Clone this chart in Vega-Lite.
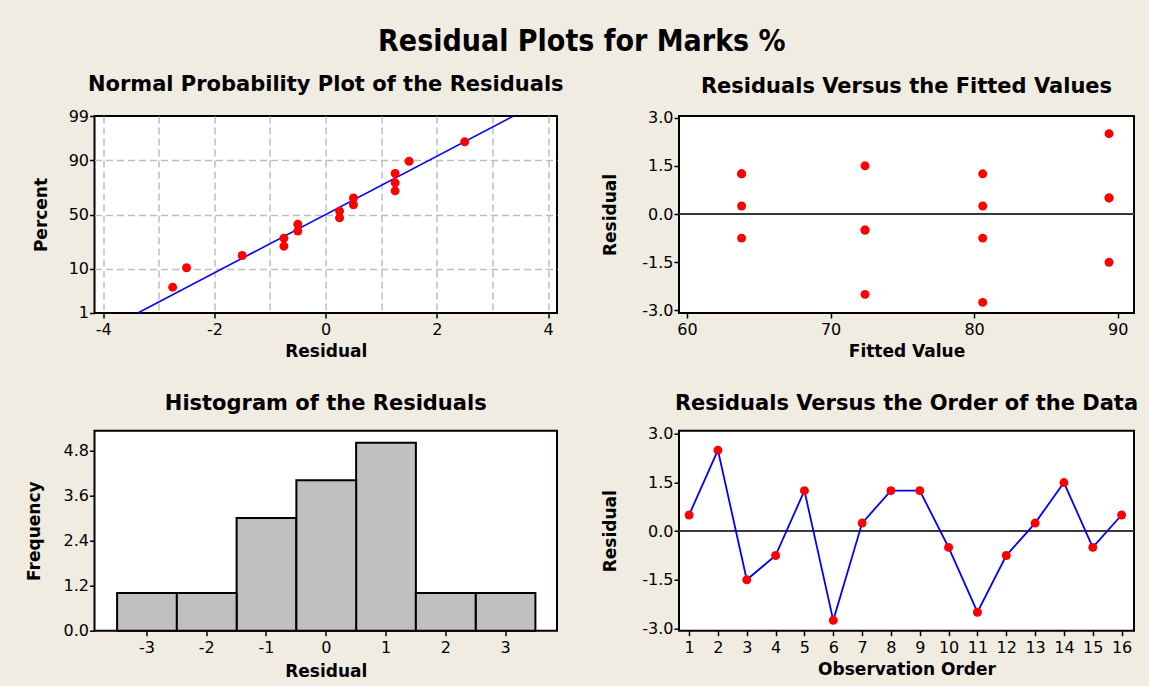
{
  "$schema": "https://vega.github.io/schema/vega-lite/v6.json",
  "background": "#F0ECE2",
  "padding": {"left": 24.5, "top": 27, "right": 14, "bottom": 14},
  "title": {"text": "Residual Plots for Marks %", "font": "DejaVu Sans Condensed", "fontWeight": "bold", "fontSize": 30, "anchor": "middle", "frame": "bounds", "color": "black", "offset": 16},
  "datasets": {
    "obs": [
      {"order": 1, "residual": 0.5, "fitted": 89.4, "score": 0.23},
      {"order": 2, "residual": 2.5, "fitted": 89.4, "score": 1.72},
      {"order": 3, "residual": -1.5, "fitted": 89.4, "score": -0.97},
      {"order": 4, "residual": -0.75, "fitted": 63.8, "score": -0.75},
      {"order": 5, "residual": 1.25, "fitted": 63.8, "score": 0.56},
      {"order": 6, "residual": -2.75, "fitted": 80.6, "score": -1.72},
      {"order": 7, "residual": 0.25, "fitted": 63.8, "score": -0.08},
      {"order": 8, "residual": 1.25, "fitted": 63.8, "score": 0.75},
      {"order": 9, "residual": 1.25, "fitted": 80.6, "score": 0.97},
      {"order": 10, "residual": -0.5, "fitted": 72.4, "score": -0.39},
      {"order": 11, "residual": -2.5, "fitted": 72.4, "score": -1.26},
      {"order": 12, "residual": -0.75, "fitted": 80.6, "score": -0.56},
      {"order": 13, "residual": 0.25, "fitted": 80.6, "score": 0.08},
      {"order": 14, "residual": 1.5, "fitted": 72.4, "score": 1.26},
      {"order": 15, "residual": -0.5, "fitted": 72.4, "score": -0.23},
      {"order": 16, "residual": 0.5, "fitted": 89.4, "score": 0.39}
    ],
    "fitline": [
      {"residual": -3.376, "score": -2.33},
      {"residual": 3.376, "score": 2.33}
    ]
  },
  "config": {
    "font": "DejaVu Sans",
    "view": {"stroke": "black", "strokeWidth": 2, "fill": "white"},
    "axis": {
      "labelFont": "DejaVu Sans", "labelFontSize": 16, "labelColor": "black",
      "titleFont": "DejaVu Sans", "titleFontSize": 17, "titleFontWeight": "bold", "titleColor": "black",
      "tickColor": "black", "tickWidth": 1.5, "tickSize": 5, "domain": false, "grid": false,
      "labelPadding": 1, "titlePadding": 18, "labelOverlap": false, "labelFlush": false
    },
    "axisX": {"titlePadding": 6, "labelPadding": 3.5},
    "title": {"font": "DejaVu Sans", "fontSize": 21, "fontWeight": "bold", "color": "black", "frame": "group", "anchor": "middle", "offset": 13}
  },
  "columns": 2,
  "spacing": {"row": 117.7, "column": 121.5},
  "bounds": "flush",
  "concat": [
    {
      "title": {"text": "Normal Probability Plot of the Residuals", "offset": 13},
      "width": 462.5,
      "height": 197,
      "encoding": {
        "x": {"field": "residual", "type": "quantitative", "scale": {"domain": [-4.155, 4.16], "nice": false, "zero": false},
              "axis": {"title": "Residual", "values": [-4, -3, -2, -1, 0, 1, 2, 3, 4], "grid": true, "gridDash": [7, 4], "gridColor": "#BEBEBE", "gridWidth": 1.5,
                       "labelExpr": "datum.value % 2 === 0 ? replace(datum.label, '\u2212', '-') : ''",
                       "tickOpacity": {"condition": {"test": "datum.value % 2 === 0", "value": 1}, "value": 0}}},
        "y": {"field": "score", "type": "quantitative", "scale": {"domain": [-2.33, 2.33], "nice": false, "zero": false},
              "axis": {"title": "Percent", "values": [-2.3263, -1.2816, 0, 1.2816, 2.3263], "grid": true, "gridDash": [7, 4], "gridColor": "#BEBEBE", "gridWidth": 1.5,
                       "gridOpacity": {"condition": {"test": "abs(datum.value) < 2", "value": 1}, "value": 0},
                       "labelExpr": "datum.value < -2 ? '1' : datum.value < -1 ? '10' : datum.value < 1 ? '50' : datum.value < 2 ? '90' : '99'"}}
      },
      "layer": [
        {"data": {"name": "fitline"}, "mark": {"type": "line", "color": "#0000FF", "strokeWidth": 1.6, "clip": true}},
        {"data": {"name": "obs"}, "mark": {"type": "circle", "color": "#FF0000", "size": 80, "opacity": 1}}
      ]
    },
    {
      "title": {"text": "Residuals Versus the Fitted Values", "offset": 13},
      "width": 455,
      "height": 197,
      "data": {"name": "obs"},
      "layer": [
        {"mark": {"type": "circle", "color": "#FF0000", "size": 80, "opacity": 1},
         "encoding": {
           "x": {"field": "fitted", "type": "quantitative", "scale": {"domain": [59.44, 91.14], "nice": false, "zero": false},
                 "axis": {"title": "Fitted Value", "values": [60, 70, 80, 90]}},
           "y": {"field": "residual", "type": "quantitative", "scale": {"domain": [-3.08, 3.05], "nice": false, "zero": false},
                 "axis": {"title": "Residual", "titlePadding": 22, "values": [-3, -1.5, 0, 1.5, 3], "labelExpr": "replace(format(datum.value, '.1f'), '\u2212', '-')"}}
         }},
        {"mark": {"type": "rule", "color": "#3A3A3A", "strokeWidth": 1.5},
         "encoding": {"y": {"datum": 0, "type": "quantitative"}}}
      ]
    },
    {
      "title": {"text": "Histogram of the Residuals", "offset": 17},
      "width": 462.5,
      "height": 200,
      "data": {"name": "obs"},
      "mark": {"type": "bar", "fill": "#C0C0C0", "stroke": "black", "strokeWidth": 2, "binSpacing": 0},
      "encoding": {
        "x": {"field": "residual", "type": "quantitative", "bin": {"extent": [-3.5, 3.5], "step": 1, "nice": false},
              "scale": {"domain": [-3.87, 3.87], "nice": false, "zero": false},
              "axis": {"title": "Residual", "titlePadding": 8, "values": [-3, -2, -1, 0, 1, 2, 3], "labelExpr": "replace(format(datum.value, 'd'), '\u2212', '-')"}},
        "y": {"aggregate": "count", "type": "quantitative", "scale": {"domain": [0, 5.32], "nice": false},
              "axis": {"title": "Frequency", "titlePadding": 19.5, "values": [0, 1.2, 2.4, 3.6, 4.8], "format": ".1f"}}
      }
    },
    {
      "title": {"text": "Residuals Versus the Order of the Data", "offset": 12},
      "width": 455,
      "height": 200,
      "data": {"name": "obs"},
      "layer": [
        {"mark": {"type": "rule", "color": "#3A3A3A", "strokeWidth": 1.5},
         "encoding": {"y": {"datum": 0, "type": "quantitative"}}},
        {"mark": {"type": "line", "color": "#0000FF", "strokeWidth": 1.8},
         "encoding": {
           "x": {"field": "order", "type": "quantitative", "scale": {"domain": [0.65, 16.43], "nice": false, "zero": false},
                 "axis": {"title": "Observation Order", "labelOverlap": false, "values": [1, 2, 3, 4, 5, 6, 7, 8, 9, 10, 11, 12, 13, 14, 15, 16]}},
           "y": {"field": "residual", "type": "quantitative", "scale": {"domain": [-3.07, 3.1], "nice": false, "zero": false},
                 "axis": {"title": "Residual", "titlePadding": 22, "values": [-3, -1.5, 0, 1.5, 3], "labelExpr": "replace(format(datum.value, '.1f'), '\u2212', '-')"}}
         }},
        {"mark": {"type": "circle", "color": "#FF0000", "size": 80, "opacity": 1},
         "encoding": {
           "x": {"field": "order", "type": "quantitative", "scale": {"domain": [0.65, 16.43], "nice": false, "zero": false},
                 "axis": {"title": "Observation Order", "labelOverlap": false, "values": [1, 2, 3, 4, 5, 6, 7, 8, 9, 10, 11, 12, 13, 14, 15, 16]}},
           "y": {"field": "residual", "type": "quantitative", "scale": {"domain": [-3.07, 3.1], "nice": false, "zero": false},
                 "axis": {"title": "Residual", "titlePadding": 22, "values": [-3, -1.5, 0, 1.5, 3], "labelExpr": "replace(format(datum.value, '.1f'), '\u2212', '-')"}}
         }}
      ]
    }
  ]
}
